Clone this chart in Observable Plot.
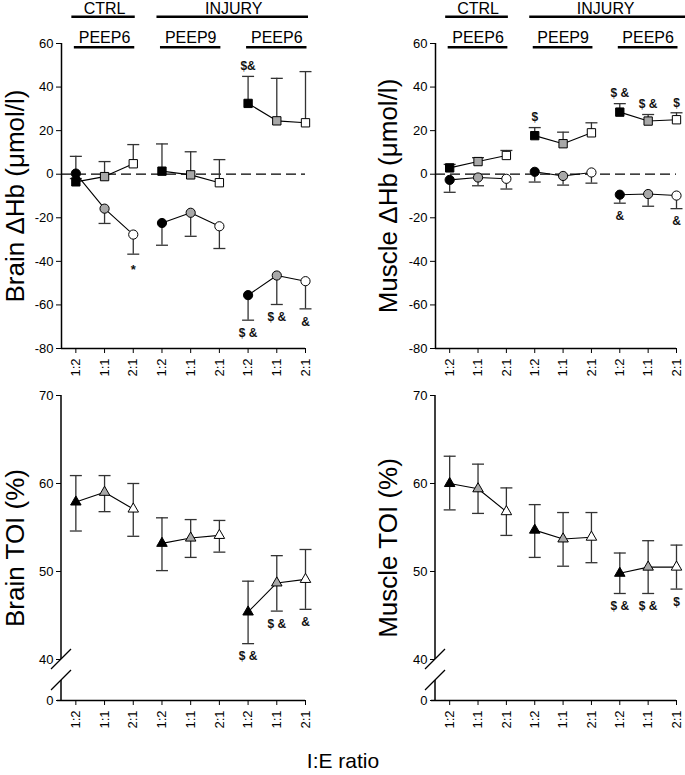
<!DOCTYPE html>
<html><head><meta charset="utf-8">
<script src="https://cdn.jsdelivr.net/npm/d3@7"></script>
<script src="https://cdn.jsdelivr.net/npm/@observablehq/plot@0.6"></script>
<style>
body{margin:0;background:#fff;font-family:"Liberation Sans",Arial,sans-serif;}
#fig{position:relative;width:685px;height:775px;overflow:hidden;background:#fff;}
#fig svg{position:absolute;background:transparent;}
#fig svg g[aria-label*="axis"] text{font-size:13px !important;}
#xlabel{position:absolute;left:0;width:686px;top:749px;text-align:center;font-size:21px;color:#000;}
</style></head><body><div id="fig"><div id="xlabel">I:E ratio</div></div>
<script>
// ---------------- data ----------------
const ieLabels = ["1:2","1:1","2:1","1:2","1:1","2:1","1:2","1:1","2:1"];
const groupOf  = [0,0,0,1,1,1,2,2,2];
const conditionHeaders = [{label:"CTRL", from:0, to:2}, {label:"INJURY", from:3, to:8}];
const peepHeaders = [{label:"PEEP6", from:0, to:2}, {label:"PEEP9", from:3, to:5}, {label:"PEEP6", from:6, to:8}];

const hbTicks = [-80,-60,-40,-20,0,20,40,60];
const hbTickLabels = ["-80","-60","-40","-20","0","20","40","60"];
const toiTicks = [0,40,50,60,70];
const toiTickLabels = ["0","40","50","60","70"];

// Brain ΔHb
const brainSq    = [-3.5,-1.1, 4.8, 1.4,-0.3,-3.9, 32.5, 24.5, 23.6];
const brainSqHi  = [ 8.2, 5.8,13.6,13.9,10.3, 6.7, 44.9, 44.0, 47.1];
const brainCi    = [ 0.3,-15.8,-27.7,-22.4,-17.7,-23.9,-55.5,-46.5,-49.1];
const brainCiLo  = [-2.0,-22.6,-36.7,-32.6,-28.5,-34.1,-67.0,-59.8,-61.8];
// Muscle ΔHb
const muscleSq   = [ 2.9, 5.8, 8.6,17.7,14.0,19.0,28.5,24.4,25.0];
const muscleSqHi = [ 4.5, 7.6,10.9,21.4,19.3,23.6,32.4,27.4,28.2];
const muscleCi   = [-2.6,-1.5,-2.1, 1.1,-0.8, 0.8,-9.4,-9.1,-9.8];
const muscleCiLo = [-8.3,-5.3,-6.8,-3.6,-5.0,-4.1,-13.3,-14.7,-15.8];
// Brain TOI
const brainToi   = [57.9,59.0,57.1,53.2,53.8,54.1,45.4,48.7,49.1];
const brainToiHi = [60.9,60.9,60.0,56.1,55.9,55.8,48.9,51.8,52.5];
const brainToiLo = [54.6,56.8,54.0,50.1,51.6,52.2,41.8,45.5,45.7];
// Muscle TOI
const muscleToi   = [60.0,59.4,56.8,54.7,53.7,53.9,49.8,50.5,50.5];
const muscleToiHi = [63.1,62.2,59.5,57.6,56.7,56.7,52.1,53.5,53.0];
const muscleToiLo = [57.0,56.6,54.1,51.6,50.6,51.0,47.5,47.5,48.0];

// significance marks (attached to an error-bar end)
const brainHbNotes = [
  {series:"square", i:6, at:"hi", text:"$&"},
  {series:"circle", i:2, at:"lo", text:"*"},
  {series:"circle", i:6, at:"lo", text:"$ &"},
  {series:"circle", i:7, at:"lo", text:"$ &"},
  {series:"circle", i:8, at:"lo", text:"&"}
];
const muscleHbNotes = [
  {series:"square", i:3, at:"hi", text:"$"},
  {series:"square", i:6, at:"hi", text:"$ &"},
  {series:"square", i:7, at:"hi", text:"$ &"},
  {series:"square", i:8, at:"hi", text:"$"},
  {series:"circle", i:6, at:"lo", text:"&"},
  {series:"circle", i:8, at:"lo", text:"&"}
];
const brainToiNotes = [
  {series:"tri", i:6, at:"lo", text:"$ &"},
  {series:"tri", i:7, at:"lo", text:"$ &"},
  {series:"tri", i:8, at:"lo", text:"&"}
];
const muscleToiNotes = [
  {series:"tri", i:6, at:"lo", text:"$ &"},
  {series:"tri", i:7, at:"lo", text:"$ &"},
  {series:"tri", i:8, at:"lo", text:"$"}
];

// ---------------- style ----------------
const FONT = "Liberation Sans, Arial, Helvetica, sans-serif";
const SHADE = {"1:2":"#000000", "1:1":"#a8a8a8", "2:1":"#ffffff"};
const ERR = "#333";
const BREAK_RATIO = 4.66 / 40;
const brk = v => v >= 40 ? v : 40 - (40 - v) * BREAK_RATIO;
const fig = document.getElementById("fig");

function rows(values, lo, hi) {
  return ieLabels.map((lab, i) => ({
    i, g: groupOf[i], v: values[i],
    lo: lo ? lo[i] : values[i], hi: hi ? hi[i] : values[i], shade: SHADE[lab]
  }));
}
const capSymbol = {draw(ctx) { ctx.moveTo(-6, 0); ctx.lineTo(6, 0); }};

function errorMarks(data, tf) {
  return [
    Plot.ruleX(data, {x:"i", y1:d => tf(d.lo), y2:d => tf(d.hi), stroke:ERR, strokeWidth:1.3}),
    Plot.dot(data.filter(d => d.hi !== d.v), {x:"i", y:d => tf(d.hi), symbol:capSymbol, fill:"none", stroke:ERR, strokeWidth:1.3}),
    Plot.dot(data.filter(d => d.lo !== d.v), {x:"i", y:d => tf(d.lo), symbol:capSymbol, fill:"none", stroke:ERR, strokeWidth:1.3})
  ];
}
function lineMark(data, tf) {
  return Plot.line(data, {x:"i", y:d => tf(d.v), z:"g", stroke:"#000", strokeWidth:1.1});
}
function dotMark(data, symbol, r, tf) {
  return Plot.dot(data, {x:"i", y:d => tf(d.v), symbol, r, fill:"shade", stroke:"#000", strokeWidth:1});
}
function noteMarks(notes, series, tf) {
  const yOf = n => tf(series[n.series][n.i][n.at]);
  const opts = (extra) => Object.assign({x:"i", y:yOf, text:"text", fontSize:12, fontWeight:"bold", fill:"#111"}, extra);
  return [
    Plot.text(notes.filter(n => n.at === "hi"), opts({dy:-10})),
    Plot.text(notes.filter(n => n.at === "lo" && n.text !== "*"), opts({dy:13})),
    Plot.text(notes.filter(n => n.at === "lo" && n.text === "*"), opts({dy:16, fontSize:13}))
  ];
}
function headerRules(groups, yPx, padL, padR) {
  return (index, scales) => {
    const g = d3.create("svg:g");
    for (const h of groups) {
      g.append("line")
        .attr("x1", scales.x(h.from) - padL).attr("x2", scales.x(h.to) + padR)
        .attr("y1", yPx).attr("y2", yPx)
        .attr("stroke", "#000").attr("stroke-width", 2.6);
    }
    return g.node();
  };
}
const xScale = {
  type:"linear", domain:[-0.5, 8], ticks: ieLabels.map((_, i) => i),
  tickFormat: i => ieLabels[i], tickRotate:-90, tickSize:5, tickPadding:5, label:null
};
const baseStyle = {background:"transparent", fontFamily:FONT, fontSize:"13px", color:"#000", overflow:"visible"};

function titleMark(title, dx) {
  return Plot.text([title], {frameAnchor:"left", dx, rotate:-90, text:d => d, fontSize:26, textAnchor:"middle", lineAnchor:"middle"});
}

function topPanel({left, width, marginLeft, marginRight, sq, sqHi, ci, ciLo, notes, title, titleDx, injPadR}) {
  const id = v => v;
  const sqRows = rows(sq, null, sqHi), ciRows = rows(ci, ciLo, null);
  const series = {square: sqRows, circle: ciRows};
  const svg = Plot.plot({
    width, height:385, marginLeft, marginRight, marginTop:43, marginBottom:37,
    style: baseStyle,
    x: xScale,
    y: {domain:[-80, 60], ticks:hbTicks, tickFormat:d => hbTickLabels[hbTicks.indexOf(d)], tickSize:5, tickPadding:3, label:null},
    marks: [
      Plot.ruleY([0], {stroke:"#000", strokeWidth:1.2, strokeDasharray:"10,5"}),
      Plot.ruleX([-0.5], {y1:-80, y2:60, stroke:"#000", strokeWidth:1.5}),
      Plot.ruleY([-80], {stroke:"#000", strokeWidth:1.5}),
      ...errorMarks(sqRows, id), ...errorMarks(ciRows, id),
      lineMark(sqRows, id), lineMark(ciRows, id),
      dotMark(sqRows, "square", 4.7, id), dotMark(ciRows, "circle", 4.6, id),
      ...noteMarks(notes, series, id),
      Plot.text(conditionHeaders, {x:d => (d.from + d.to) / 2, frameAnchor:"top", lineAnchor:"middle", dy:-35, text:"label", fontSize:16}),
      Plot.text(peepHeaders, {x:d => (d.from + d.to) / 2, frameAnchor:"top", lineAnchor:"middle", dy:-6, text:"label", fontSize:16}),
      headerRules(conditionHeaders.slice(0, 1), 16.7, 4, 2),
      headerRules(conditionHeaders.slice(1), 16.7, 5, injPadR),
      headerRules(peepHeaders, 47.3, 1.5, 1.5),
      titleMark(title, titleDx)
    ]
  });
  svg.style.left = left + "px"; svg.style.top = "0px";
  fig.appendChild(svg);
}

function bottomPanel({left, width, marginLeft, marginRight, v, lo, hi, notes, title, titleDx}) {
  const tRows = rows(v, lo, hi);
  const series = {tri: tRows};
  const tt = toiTicks.map(brk);
  const svg = Plot.plot({
    width, height:360, marginLeft, marginRight, marginTop:10, marginBottom:45,
    style: baseStyle,
    x: xScale,
    y: {domain:[brk(0), 70], ticks:tt, tickFormat:d => toiTickLabels[tt.indexOf(d)], tickSize:5, tickPadding:3, label:null},
    marks: [
      Plot.ruleY([brk(0)], {stroke:"#000", strokeWidth:1.5, insetLeft:-4}),
      (index, scales) => {
        const g = d3.create("svg:g").attr("stroke", "#000").attr("fill", "none");
        const x0 = scales.x(-0.5), yTop = scales.y(70), yA = scales.y(40), yZero = scales.y(brk(0));
        const yB = yA + 21;
        g.append("line").attr("x1", x0).attr("x2", x0).attr("y1", yTop).attr("y2", yA).attr("stroke-width", 1.5);
        g.append("line").attr("x1", x0).attr("x2", x0).attr("y1", yB).attr("y2", yZero).attr("stroke-width", 1.5);
        for (const yc of [yA, yB]) {
          g.append("line").attr("x1", x0 - 10).attr("y1", yc + 10).attr("x2", x0 + 10).attr("y2", yc - 10).attr("stroke-width", 1.2);
        }
        return g.node();
      },
      ...errorMarks(tRows, brk),
      lineMark(tRows, brk),
      dotMark(tRows, "triangle", 3.9, brk),
      ...noteMarks(notes, series, brk),
      titleMark(title, titleDx)
    ]
  });
  svg.style.left = left + "px"; svg.style.top = "385px";
  fig.appendChild(svg);
}

topPanel({left:0, width:342, marginLeft:61, marginRight:37, sq:brainSq, sqHi:brainSqHi, ci:brainCi, ciLo:brainCiLo,
  notes:brainHbNotes, title:"Brain \u0394Hb (\u03bcmol/l)", titleDx:-46, injPadR:3});
topPanel({left:373, width:312, marginLeft:62, marginRight:9, sq:muscleSq, sqHi:muscleSqHi, ci:muscleCi, ciLo:muscleCiLo,
  notes:muscleHbNotes, title:"Muscle \u0394Hb (\u03bcmol/l)", titleDx:-47, injPadR:9});
bottomPanel({left:0, width:342, marginLeft:61, marginRight:37, v:brainToi, lo:brainToiLo, hi:brainToiHi,
  notes:brainToiNotes, title:"Brain TOI (%)", titleDx:-46});
bottomPanel({left:373, width:312, marginLeft:62, marginRight:9, v:muscleToi, lo:muscleToiLo, hi:muscleToiHi,
  notes:muscleToiNotes, title:"Muscle TOI (%)", titleDx:-47});
</script></body></html>
